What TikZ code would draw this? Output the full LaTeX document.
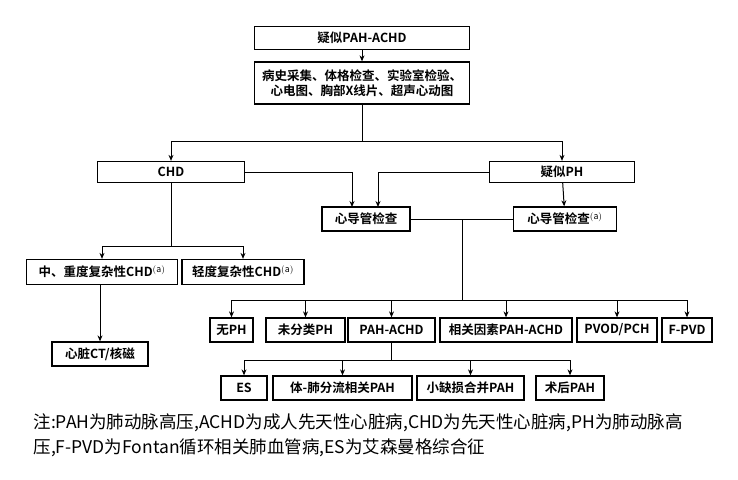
\documentclass[tikz,border=0pt]{standalone}
\usepackage{fontspec}
\setmainfont{Noto Sans CJK SC}[BoldFont={Noto Sans CJK SC Bold}]
\usetikzlibrary{arrows.meta}
\begin{document}
\begin{tikzpicture}[x=1pt,y=-1pt,
  bx/.style={draw,line width=1.3pt,inner sep=0pt,font=\fontsize{12.5}{15}\selectfont\bfseries},
  ar/.style={line width=1pt,-{Stealth[length=6pt,width=5pt]}},
  ln/.style={line width=1pt}]
\useasboundingbox (0,0) rectangle (738,479);
\newcommand{\bb}[5]{\node[bx,minimum width=#3,minimum height=#4] (#1) at #2 {#5};}
\bb{a}{(362,38)}{215}{23}{疑似PAH-ACHD}
\node[bx,minimum width=215,minimum height=42,align=center] (b) at (362,83) {病史采集、体格检查、实验室检验、\\心电图、胸部X线片、超声心动图};
\bb{chd}{(171,172)}{147}{21}{CHD}
\bb{ph}{(562,172)}{145}{21}{疑似PH}
\bb{cl}{(366,219)}{88}{24}{心导管检查}
\bb{cr}{(565,219)}{103}{24}{心导管检查$^{\mathrm{(a)}}$}
\bb{m1}{(102,272)}{151}{25}{中、重度复杂性CHD$^{\mathrm{(a)}}$}
\bb{m2}{(243,272)}{122}{25}{轻度复杂性CHD$^{\mathrm{(a)}}$}
\bb{ct}{(100,354)}{96}{24}{心脏CT/核磁}
\bb{r1}{(231.5,330)}{43}{24}{无PH}
\bb{r2}{(305.5,330)}{79}{24}{未分类PH}
\bb{r3}{(391.5,330)}{87}{24}{PAH-ACHD}
\bb{r4}{(506,330)}{132}{24}{相关因素PAH-ACHD}
\bb{r5}{(617,330)}{80}{24}{PVOD/PCH}
\bb{r6}{(687,330)}{50}{24}{F-PVD}
\bb{s1}{(244,388)}{46}{24}{ES}
\bb{s2}{(342.5,388)}{139}{24}{体-肺分流相关PAH}
\bb{s3}{(470.5,388)}{107}{24}{小缺损合并PAH}
\bb{s4}{(570,388)}{68}{24}{术后PAH}
\draw[ar] (a) -- (b);
\coordinate (j1) at (362,141);
\draw[ln] (b) -- (j1);
\draw[ar] (j1) -| (chd);
\draw[ar] (j1) -| (ph);
\draw[ar] (chd.east) -| (352,207);
\draw[ar] (ph.west) -| (378,207);
\draw[ar] (ph) -- (cr);
\draw[ln] (cl.east) -- (cr.west);
\coordinate (j2) at (462,300);
\draw[ln] (462,219) -- (j2);
\foreach \n in {r1,r2,r3,r4,r5,r6} \draw[ar] (j2) -| (\n);
\coordinate (j3) at (171,246);
\draw[ln] (chd) -- (j3);
\draw[ar] (j3) -| (m1);
\draw[ar] (j3) -| (m2);
\draw[ar] (m1.south -| ct) -- (ct);
\coordinate (j4) at (391.5,360);
\draw[ln] (r3) -- (j4);
\foreach \n in {s1,s2,s3,s4} \draw[ar] (j4) -| (\n);
\node[anchor=west,font=\fontsize{17.5}{20}\selectfont] (n1) at (30,423) {注:PAH为肺动脉高压,ACHD为成人先天性心脏病,CHD为先天性心脏病,PH为肺动脉高};
\node[anchor=west,font=\fontsize{17.5}{20}\selectfont] (n2) at (30,448) {压,F-PVD为Fontan循环相关肺血管病,ES为艾森曼格综合征};
\end{tikzpicture}
\end{document}
